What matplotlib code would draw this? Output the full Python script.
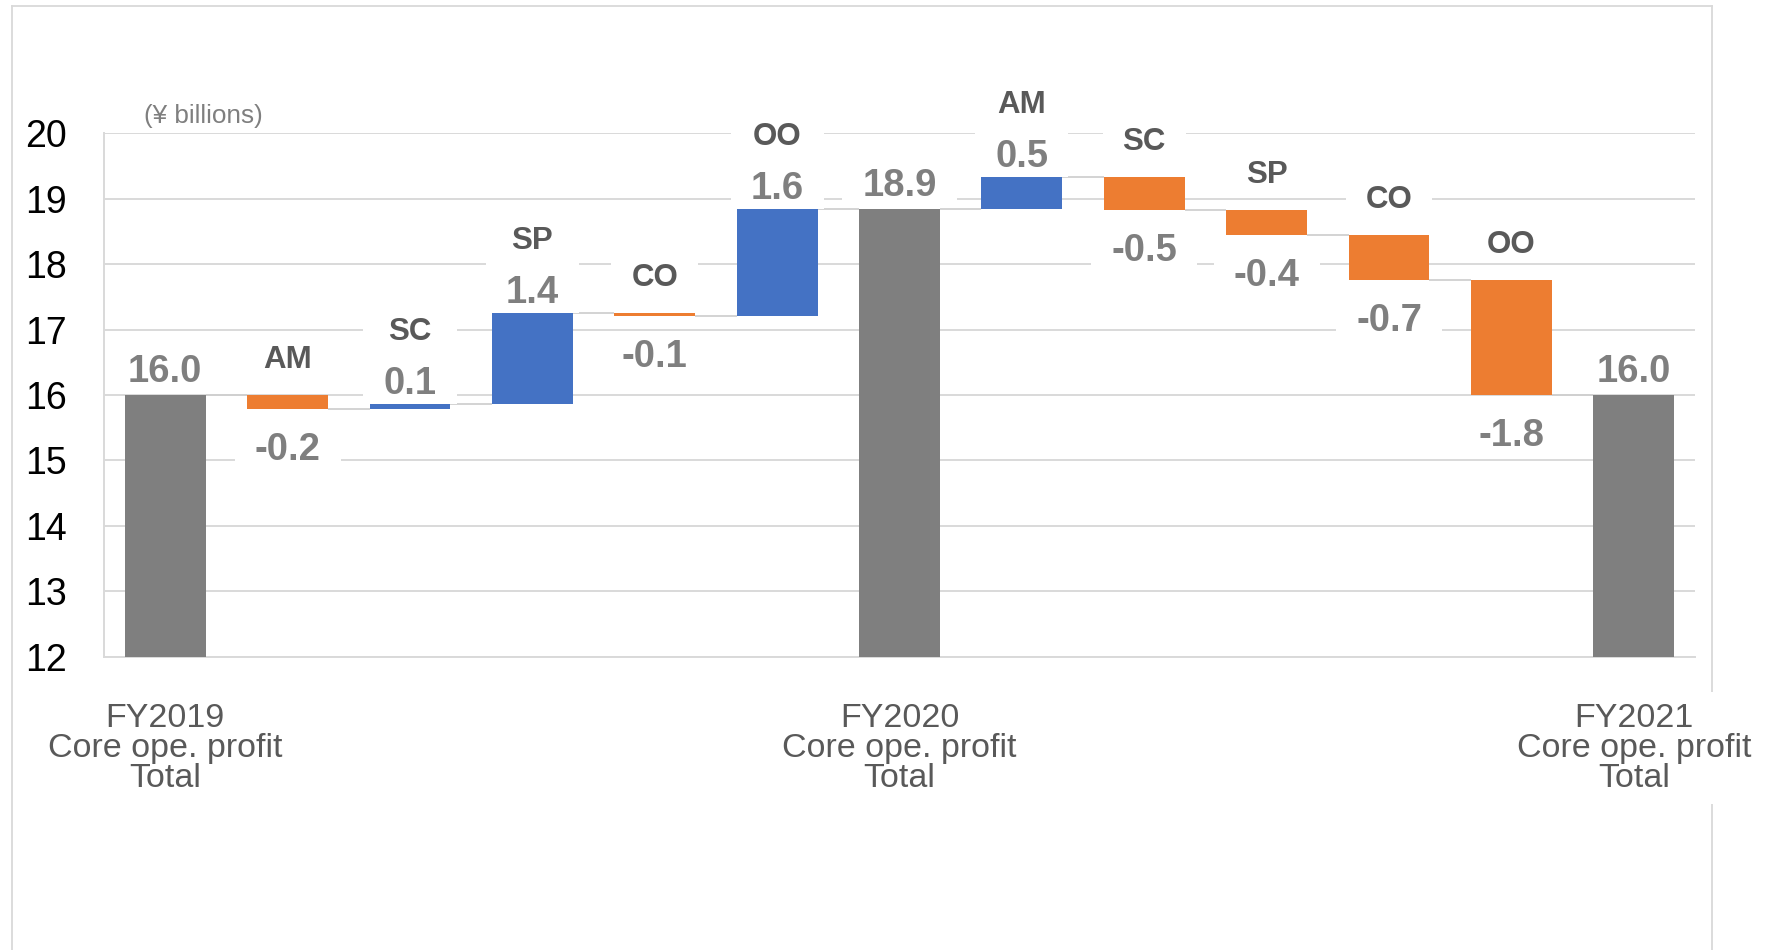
import matplotlib
matplotlib.use('Agg')
import matplotlib.pyplot as plt
from matplotlib.patches import Rectangle
from matplotlib.lines import Line2D
from matplotlib.transforms import Bbox

plt.rcParams['font.family'] = ['Liberation Sans', 'DejaVu Sans']

# ---- data ----
total_label = 'Core ope. profit\nTotal'
categories = ['FY2019', 'AM', 'SC', 'SP', 'CO', 'OO', 'FY2020',
              'AM', 'SC', 'SP', 'CO', 'OO', 'FY2021']
kinds = ['total', 'delta', 'delta', 'delta', 'delta', 'delta', 'total',
         'delta', 'delta', 'delta', 'delta', 'delta', 'total']
values = [16.0, -0.21, 0.08, 1.38, -0.05, 1.65, 18.85,
          0.48, -0.50, -0.39, -0.68, -1.76, 16.0]
value_labels = ['16.0', '-0.2', '0.1', '1.4', '-0.1', '1.6', '18.9',
                '0.5', '-0.5', '-0.4', '-0.7', '-1.8', '16.0']
yticks = [12, 13, 14, 15, 16, 17, 18, 19, 20]

C_TOTAL = '#7f7f7f'
C_UP = '#4472c4'
C_DOWN = '#ed7d31'
C_GRID = '#d9d9d9'
C_VAL = '#7f7f7f'
C_CAT = '#595959'

W, H = 1768, 950
fig = plt.figure(figsize=(W / 100, H / 100), dpi=100)
ax = fig.add_axes([104 / W, 1 - 656.7 / H, 1591 / W, (656.7 - 133.3) / H])
ax.set_facecolor('none')

# ---- compute waterfall ----
bottoms, heights, colors, ends = [], [], [], []
running = 0.0
for k, v in zip(kinds, values):
    if k == 'total':
        bottoms.append(0.0)
        heights.append(v)
        colors.append(C_TOTAL)
        running = v
    else:
        bottoms.append(running)
        heights.append(v)
        colors.append(C_UP if v >= 0 else C_DOWN)
        running += v
    ends.append(running)

bw = 0.66
x = list(range(len(categories)))
ax.bar(x, heights, bottom=bottoms, width=bw, color=colors, zorder=3)

# connectors
for i in range(len(x) - 1):
    ax.plot([x[i] + bw / 2, x[i + 1] - bw / 2], [ends[i], ends[i]],
            color='#d0d0d0', lw=1.3, zorder=1.5, solid_capstyle='butt')

ax.set_xlim(-0.5, 12.5)
ax.set_ylim(12, 20)
ax.set_yticks(yticks)
ax.tick_params(axis='y', length=0, labelsize=27, pad=27, labelcolor='black')
ax.set_axisbelow(True)
ax.yaxis.grid(True, color=C_GRID, lw=1.4)
for s in ['top', 'right']:
    ax.spines[s].set_visible(False)
for s in ['left', 'bottom']:
    ax.spines[s].set_color(C_GRID)
    ax.spines[s].set_linewidth(1.4)

tick_idx = [i for i, k in enumerate(kinds) if k == 'total']
ax.set_xticks(tick_idx)
ax.set_xticklabels([categories[i] + '\n' + total_label for i in tick_idx],
                   fontsize=24.5, color=C_CAT, linespacing=0.97)
ax.tick_params(axis='x', length=0, pad=33)
for t in ax.get_xticklabels():
    t.set_bbox(dict(boxstyle='square,pad=0.3', fc='white', ec='none'))

# ---- labels ----
groups = []
for i, k in enumerate(kinds):
    top = max(bottoms[i], bottoms[i] + heights[i])
    bot = min(bottoms[i], bottoms[i] + heights[i])
    if k == 'total':
        t = ax.annotate(value_labels[i], (x[i], top), xytext=(0, 13),
                        textcoords='offset pixels', ha='center', va='baseline',
                        fontsize=27.5, fontweight='bold', color=C_VAL, zorder=5)
        groups.append([t])
    elif values[i] >= 0:
        tv = ax.annotate(value_labels[i], (x[i], top), xytext=(0, 10),
                         textcoords='offset pixels', ha='center', va='baseline',
                         fontsize=27.5, fontweight='bold', color=C_VAL, zorder=5)
        tc = ax.annotate(categories[i], (x[i], top), xytext=(0, 64),
                         textcoords='offset pixels', ha='center', va='baseline',
                         fontsize=22.5, fontweight='bold', color=C_CAT, zorder=5)
        groups.append([tv, tc])
    else:
        tc = ax.annotate(categories[i], (x[i], top), xytext=(0, 27),
                         textcoords='offset pixels', ha='center', va='baseline',
                         fontsize=22.5, fontweight='bold', color=C_CAT, zorder=5)
        tv = ax.annotate(value_labels[i], (x[i], bot), xytext=(0, -51),
                         textcoords='offset pixels', ha='center', va='baseline',
                         fontsize=27.5, fontweight='bold', color=C_VAL, zorder=5)
        groups.append([tc])
        groups.append([tv])

# unit label
fig.text(144 / W, 1 - 123.3 / H, '(¥ billions)', fontsize=18.8, color=C_VAL,
         ha='left', va='baseline')

# outer frame
fx0, fx1, fy1 = 11.7 / W, 1711.7 / W, 1 - 5.7 / H
for xs, ys in [([fx0, fx0], [0, fy1]), ([fx0, fx1], [fy1, fy1]), ([fx1, fx1], [fy1, 0])]:
    fig.add_artist(Line2D(xs, ys, transform=fig.transFigure, color=C_GRID,
                          lw=1.3, zorder=-1))

# white boxes behind labels (cut gridlines like the original)
fig.canvas.draw()
r = fig.canvas.get_renderer()
inv = ax.transData.inverted()
for g in groups:
    bb = Bbox.union([t.get_window_extent(r) for t in g])
    x0, y0 = inv.transform((bb.x0 - 20, bb.y0 - 2))
    x1, y1 = inv.transform((bb.x1 + 20, bb.y1 + 2))
    ax.add_patch(Rectangle((x0, y0), x1 - x0, y1 - y0, fc='white', ec='none',
                           zorder=2))

fig.savefig('out.png', dpi=100, facecolor='white')
